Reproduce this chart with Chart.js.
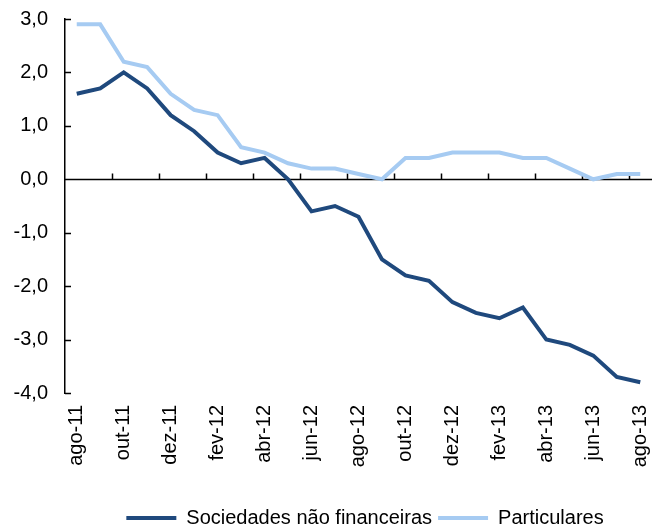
<!DOCTYPE html>
<html>
<head>
<meta charset="utf-8">
<script src="https://cdn.jsdelivr.net/npm/chart.js@4.4.1/dist/chart.umd.min.js"></script>
<style>
html, body { margin: 0; padding: 0; background: #fff; }
#wrap { width: 652px; height: 529px; position: relative; }
</style>
</head>
<body>
<div id="wrap"><canvas id="c"></canvas></div>
<script>
const categories = ["ago-11","set-11","out-11","nov-11","dez-11","jan-12","fev-12","mar-12","abr-12","mai-12","jun-12","jul-12","ago-12","set-12","out-12","nov-12","dez-12","jan-13","fev-13","mar-13","abr-13","mai-13","jun-13","jul-13","ago-13"];
const sociedades = [1.6,1.7,2.0,1.7,1.2,0.9,0.5,0.3,0.4,0.0,-0.6,-0.5,-0.7,-1.5,-1.8,-1.9,-2.3,-2.5,-2.6,-2.4,-3.0,-3.1,-3.3,-3.7,-3.8];
const particulares = [2.9,2.9,2.2,2.1,1.6,1.3,1.2,0.6,0.5,0.3,0.2,0.2,0.1,0.0,0.4,0.4,0.5,0.5,0.5,0.4,0.4,0.2,0.0,0.1,0.1];
const seriesNames = ["Sociedades não financeiras","Particulares"];
const yTicks = { min: -4, max: 3, step: 1 };

const FONT = "'Liberation Sans', Arial, sans-serif";

const axisMarks = {
  id: 'axisMarks',
  afterLayout(chart) {
    // Excel-style legend is shifted right of centre and sits near the bottom
    const lg = chart.legend;
    if (lg) { lg.left += 39; lg.right += 39; lg.top += 9; lg.bottom += 9; }
  },
  beforeDatasetsDraw(chart) {
    const ctx = chart.ctx;
    const x = chart.scales.x, y = chart.scales.y;
    const area = chart.chartArea;
    const y0 = Math.round(y.getPixelForValue(0)) + 0.5;
    ctx.save();
    ctx.strokeStyle = '#000';
    ctx.lineWidth = 1.5;
    ctx.beginPath();
    ctx.moveTo(area.left, y0);
    ctx.lineTo(area.right, y0);
    for (let i = 2; i < categories.length; i += 2) {
      const px = Math.round((x.getPixelForValue(i - 1) + x.getPixelForValue(i)) / 2) + 0.5;
      ctx.moveTo(px, y0);
      ctx.lineTo(px, y0 - 6);
    }
    for (let v = yTicks.min; v <= yTicks.max; v += yTicks.step) {
      const py = Math.round(y.getPixelForValue(v)) + 0.5;
      ctx.moveTo(area.left, py);
      ctx.lineTo(area.left + 6, py);
    }
    ctx.stroke();
    ctx.restore();
  }
};

new Chart(document.getElementById('c'), {
  type: 'line',
  data: {
    labels: categories,
    datasets: [
      { label: seriesNames[0], data: sociedades, borderColor: '#1F497D', backgroundColor: '#1F497D', borderWidth: 4, pointRadius: 0, tension: 0 },
      { label: seriesNames[1], data: particulares, borderColor: '#A6CBF2', backgroundColor: '#A6CBF2', borderWidth: 4, pointRadius: 0, tension: 0 }
    ]
  },
  options: {
    responsive: true,
    maintainAspectRatio: false,
    animation: false,
    layout: { padding: { top: 19, right: 0, left: 0, bottom: 0 } },
    plugins: {
      tooltip: { enabled: false },
      legend: {
        position: 'bottom',
        labels: {
          usePointStyle: true,
          pointStyle: 'line',
          pointStyleWidth: 50,
          padding: 6,
          color: '#000',
          font: { family: FONT, size: 20 }
        }
      }
    },
    scales: {
      x: {
        type: 'category',
        offset: true,
        grid: { display: false, drawTicks: false },
        border: { display: false },
        afterFit(scale) { scale.paddingRight = 0; scale.paddingLeft = 0; scale.height = 100; },
        ticks: {
          autoSkip: false,
          maxRotation: 90,
          minRotation: 90,
          padding: 12,
          color: '#000',
          font: { family: FONT, size: 20 },
          callback: function(v, i) { return i % 2 === 0 ? this.getLabelForValue(v) : ''; }
        }
      },
      y: {
        min: yTicks.min,
        max: yTicks.max,
        afterFit(scale) { scale.width = 65; scale.paddingTop = 0; scale.paddingBottom = 0; },
        grid: { drawOnChartArea: false, drawTicks: false },
        border: { display: true, color: '#000', width: 1.5 },
        ticks: {
          stepSize: yTicks.step,
          padding: 17,
          color: '#000',
          font: { family: FONT, size: 20 },
          callback: (v) => v.toFixed(1).replace('.', ',')
        }
      }
    }
  },
  plugins: [axisMarks]
});
</script>
</body>
</html>
